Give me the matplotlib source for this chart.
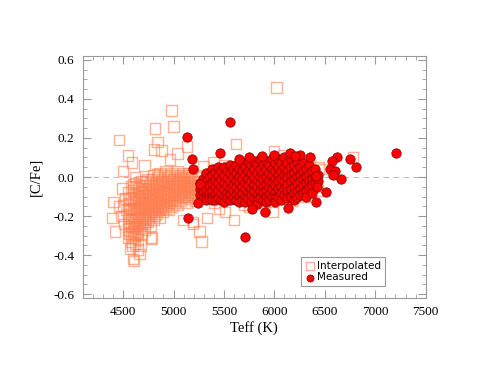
# scatter of [C/Fe] against Teff, interpolated vs measured values
import matplotlib
matplotlib.use('Agg')
import matplotlib.pyplot as plt
from matplotlib.ticker import MultipleLocator

# interpolated values (open squares)
interp_teff = [
    6020, 4980, 5000, 4815, 4460, 5620, 4840, 4550, 4805, 4880, 5040, 5135,
    4965, 5995, 4590, 4715, 4500, 5395, 5295, 4835, 4620, 4405, 4395, 4420,
    4570, 4610, 4660, 4775, 4675, 5280, 5260, 5330, 5600, 5195, 4495, 5980,
    6085, 6210, 6435, 6780, 6470, 6430, 5510, 5905, 6180, 6415, 4600, 4500,
    4595, 4650, 4600, 4785, 5195, 5095,
    4460, 4480, 4510, 4520, 4530,
    4550, 4550, 4550, 4550, 4550, 4550,
    4580, 4580, 4580, 4580, 4580, 4580, 4580,
    4620, 4620, 4620, 4620, 4620, 4620, 4620, 4620,
    4650, 4650, 4650, 4650, 4650, 4650, 4650,
    4680, 4680, 4680, 4680, 4680, 4680, 4680,
    4710, 4710, 4710, 4710, 4710, 4710, 4710,
    4740, 4740, 4740, 4740, 4740, 4740,
    4770, 4770, 4770, 4770, 4770, 4770,
    4800, 4800, 4800, 4800, 4800, 4800,
    4830, 4830, 4830, 4830, 4830,
    4860, 4860, 4860, 4860, 4860, 4860,
    4890, 4890, 4890, 4890, 4890,
    4920, 4920, 4920, 4920, 4920,
    4950, 4950, 4950, 4950, 4950,
    4980, 4980, 4980, 4980, 4980,
    5010, 5010, 5010, 5010,
    5040, 5040, 5040, 5040, 5040,
    5070, 5070, 5070, 5070,
    5100, 5100, 5100, 5100,
    5130, 5130, 5130, 5130,
    5160, 5160, 5160, 5160,
    5190, 5190, 5190,
    5220, 5220, 5220, 5220,
    5250, 5250, 5250,
    4565, 4565, 4565, 4565, 4565,
    4600, 4600, 4600, 4600, 4600, 4600, 4600,
    4635, 4635, 4635, 4635, 4635, 4635,
    4665, 4665, 4665, 4665, 4665, 4665,
    4695, 4695, 4695, 4695, 4695,
    4725, 4725, 4725, 4725, 4725, 4725,
    4755, 4755, 4755, 4755, 4755,
    4785, 4785, 4785, 4785, 4785,
    4815, 4815, 4815, 4815, 4815,
    4845, 4845, 4845, 4845, 4845,
    4875, 4875, 4875, 4875,
    4905, 4905, 4905, 4905, 4905,
    4935, 4935, 4935, 4935,
    4965, 4965, 4965, 4965,
    4995, 4995, 4995, 4995,
    5025, 5025, 5025, 5025,
    5055, 5055, 5055,
    5085, 5085, 5085, 5085,
    5115, 5115, 5115,
    5145, 5145, 5145, 5145,
    5175, 5175, 5175,
    5205, 5205, 5205,
    5400, 5500, 5700, 5800, 5900, 6000, 6100, 6200, 6300, 5350, 5600, 5850,
    6050, 6250, 5450, 5750, 6350,
]
interp_cfe = [
    0.46, 0.34, 0.26, 0.25, 0.19, 0.17, 0.18, 0.11, 0.14, 0.135, 0.12, 0.155,
    0.09, 0.13, 0.075, 0.06, 0.03, 0.075, 0.055, 0.015, 0.0, -0.127, -0.21, -0.28,
    -0.366, -0.43, -0.395, -0.315, -0.35, -0.33, -0.28, -0.21, -0.22, -0.24, -0.06, -0.18,
    0.11, 0.1, 0.05, 0.1, 0.04, -0.07, -0.18, -0.155, -0.12, -0.05, -0.036, -0.147,
    -0.35, -0.37, -0.42, -0.31, -0.23, -0.22,
    -0.15, -0.2, -0.24, -0.11, -0.17,
    -0.08, -0.14, -0.19, -0.23, -0.27, -0.31,
    -0.05, -0.11, -0.17, -0.21, -0.25, -0.29, -0.33,
    -0.03, -0.09, -0.13, -0.18, -0.22, -0.26, -0.30, -0.34,
    -0.06, -0.10, -0.15, -0.19, -0.24, -0.28, -0.32,
    -0.02, -0.08, -0.12, -0.16, -0.21, -0.25, -0.29,
    -0.04, -0.09, -0.13, -0.17, -0.20, -0.24, -0.27,
    -0.01, -0.06, -0.11, -0.15, -0.19, -0.23,
    -0.03, -0.08, -0.12, -0.16, -0.20, -0.25,
    0.01, -0.05, -0.10, -0.14, -0.18, -0.22,
    -0.02, -0.07, -0.11, -0.15, -0.19,
    0.02, -0.04, -0.09, -0.13, -0.17, -0.21,
    -0.01, -0.06, -0.10, -0.14, -0.18,
    0.03, -0.03, -0.08, -0.12, -0.16,
    0.00, -0.05, -0.09, -0.13, -0.17,
    0.02, -0.03, -0.07, -0.11, -0.15,
    -0.01, -0.05, -0.09, -0.13,
    0.03, -0.02, -0.06, -0.10, -0.14,
    0.00, -0.04, -0.08, -0.12,
    0.02, -0.02, -0.06, -0.10,
    -0.01, -0.05, -0.09, -0.13,
    0.01, -0.03, -0.07, -0.11,
    -0.01, -0.05, -0.09,
    0.01, -0.04, -0.08, -0.12,
    -0.02, -0.06, -0.10,
    -0.11, -0.16, -0.21, -0.25, -0.29,
    -0.07, -0.12, -0.16, -0.20, -0.24, -0.28, -0.31,
    -0.05, -0.11, -0.16, -0.21, -0.25, -0.29,
    -0.04, -0.08, -0.13, -0.17, -0.22, -0.26,
    -0.06, -0.10, -0.14, -0.19, -0.23,
    -0.02, -0.07, -0.11, -0.15, -0.18, -0.22,
    -0.04, -0.09, -0.13, -0.17, -0.21,
    -0.01, -0.06, -0.10, -0.14, -0.18,
    -0.03, -0.08, -0.12, -0.16, -0.20,
    0.00, -0.05, -0.09, -0.13, -0.17,
    -0.02, -0.07, -0.11, -0.15,
    0.01, -0.04, -0.08, -0.12, -0.15,
    -0.02, -0.06, -0.10, -0.14,
    0.01, -0.04, -0.08, -0.12,
    -0.01, -0.05, -0.09, -0.12,
    0.01, -0.03, -0.07, -0.11,
    -0.01, -0.05, -0.09,
    0.01, -0.03, -0.07, -0.10,
    0.00, -0.04, -0.08,
    0.02, -0.02, -0.06, -0.10,
    0.00, -0.04, -0.08,
    -0.02, -0.06, -0.10,
    -0.13, 0.06, -0.14, 0.07, -0.12, 0.08, -0.11, 0.05, -0.10, -0.05, 0.0, -0.03,
    0.0, -0.02, -0.16, -0.15, 0.07,
]

# measured values (filled circles)
meas_teff = [
    5260, 5260, 5260,
    5290, 5290, 5290, 5290,
    5320, 5320, 5320, 5320, 5320,
    5350, 5350, 5350, 5350,
    5380, 5380, 5380, 5380, 5380, 5380,
    5410, 5410, 5410, 5410, 5410,
    5440, 5440, 5440, 5440, 5440,
    5470, 5470, 5470, 5470, 5470,
    5500, 5500, 5500, 5500, 5500, 5500,
    5530, 5530, 5530, 5530, 5530,
    5560, 5560, 5560, 5560, 5560, 5560,
    5590, 5590, 5590, 5590, 5590,
    5620, 5620, 5620, 5620, 5620, 5620,
    5650, 5650, 5650, 5650, 5650, 5650,
    5680, 5680, 5680, 5680, 5680, 5680,
    5710, 5710, 5710, 5710, 5710, 5710,
    5740, 5740, 5740, 5740, 5740, 5740,
    5770, 5770, 5770, 5770, 5770, 5770,
    5800, 5800, 5800, 5800, 5800, 5800,
    5830, 5830, 5830, 5830, 5830, 5830, 5830,
    5860, 5860, 5860, 5860, 5860, 5860,
    5890, 5890, 5890, 5890, 5890, 5890,
    5920, 5920, 5920, 5920, 5920, 5920, 5920,
    5950, 5950, 5950, 5950, 5950, 5950,
    5980, 5980, 5980, 5980, 5980, 5980,
    6010, 6010, 6010, 6010, 6010, 6010, 6010,
    6040, 6040, 6040, 6040, 6040, 6040,
    6070, 6070, 6070, 6070, 6070, 6070,
    6100, 6100, 6100, 6100, 6100, 6100,
    6130, 6130, 6130, 6130, 6130, 6130,
    6160, 6160, 6160, 6160, 6160, 6160,
    6190, 6190, 6190, 6190, 6190, 6190,
    6220, 6220, 6220, 6220, 6220, 6220,
    6250, 6250, 6250, 6250, 6250,
    6280, 6280, 6280, 6280, 6280,
    6310, 6310, 6310, 6310, 6310,
    6340, 6340, 6340, 6340,
    6370, 6370, 6370, 6370,
    6400, 6400, 6400,
    6430, 6430,
    5558, 5136, 5179, 5462, 5195, 5749, 5145, 5707, 5905, 5781, 5261, 6159,
    6136, 5245, 7208, 6625, 6568, 6753, 6806, 6657, 6548, 6600, 6578, 6509,
    6410, 6423, 6350, 6416, 5995, 6250, 6200, 5650, 5880,
]
meas_cfe = [
    -0.03, -0.06, -0.09,
    -0.01, -0.05, -0.08, -0.11,
    0.02, -0.02, -0.06, -0.10, -0.12,
    0.00, -0.04, -0.08, -0.11,
    0.04, 0.01, -0.03, -0.07, -0.10, -0.12,
    0.02, -0.02, -0.05, -0.09, -0.12,
    0.05, 0.01, -0.03, -0.07, -0.11,
    0.03, -0.01, -0.05, -0.08, -0.12,
    0.05, 0.01, -0.03, -0.06, -0.10, -0.13,
    0.03, -0.01, -0.04, -0.08, -0.11,
    0.06, 0.02, -0.02, -0.06, -0.09, -0.12,
    0.04, 0.00, -0.04, -0.07, -0.11,
    0.06, 0.02, -0.02, -0.05, -0.09, -0.12,
    0.04, 0.00, -0.03, -0.07, -0.10, -0.13,
    0.07, 0.03, -0.01, -0.05, -0.08, -0.12,
    0.05, 0.01, -0.03, -0.06, -0.10, -0.13,
    0.08, 0.03, -0.01, -0.04, -0.08, -0.11,
    0.06, 0.02, -0.02, -0.06, -0.09, -0.13,
    0.08, 0.04, 0.00, -0.04, -0.07, -0.11,
    0.06, 0.02, -0.02, -0.05, -0.09, -0.12, -0.14,
    0.09, 0.04, 0.00, -0.03, -0.07, -0.11,
    0.06, 0.02, -0.01, -0.05, -0.08, -0.12,
    0.08, 0.04, 0.00, -0.04, -0.07, -0.10, -0.13,
    0.06, 0.02, -0.02, -0.05, -0.09, -0.12,
    0.09, 0.04, 0.01, -0.03, -0.06, -0.10,
    0.07, 0.03, -0.01, -0.04, -0.08, -0.11, -0.13,
    0.09, 0.05, 0.01, -0.02, -0.06, -0.10,
    0.07, 0.03, -0.01, -0.05, -0.08, -0.12,
    0.10, 0.05, 0.01, -0.02, -0.06, -0.09,
    0.07, 0.03, 0.00, -0.04, -0.07, -0.11,
    0.09, 0.05, 0.01, -0.02, -0.06, -0.10,
    0.06, 0.02, -0.01, -0.05, -0.08, -0.12,
    0.08, 0.04, 0.00, -0.03, -0.07, -0.10,
    0.05, 0.01, -0.02, -0.06, -0.09,
    0.07, 0.03, -0.01, -0.04, -0.08,
    0.04, 0.00, -0.03, -0.07, -0.10,
    0.06, 0.02, -0.02, -0.05,
    0.03, -0.01, -0.04, -0.08,
    0.04, 0.00, -0.03,
    0.01, -0.02,
    0.28, 0.207, 0.092, 0.123, 0.04, 0.10, -0.21, -0.305, -0.178, -0.162, -0.036, 0.123,
    -0.16, -0.133, 0.123, 0.10, 0.08, 0.09, 0.05, -0.012, 0.04, 0.03, 0.012, -0.075,
    -0.127, -0.053, 0.105, 0.007, 0.115, 0.115, 0.11, 0.09, 0.11,
]

# colors
interp_color = '#ff7f50'
meas_face = '#ff0000'
meas_edge = '#7a0000'
axis_color = '#999999'

plt.rcParams['font.family'] = 'Liberation Serif'

fig = plt.figure(figsize=(4.79, 3.70), dpi=100)
ax = fig.add_axes([0.1727, 0.1946, 0.716, 0.654])

# zero line
ax.axhline(0, color='#bbbbbb', linestyle=(0, (5, 4)), linewidth=0.8, zorder=0)

ax.scatter(interp_teff, interp_cfe, marker='s', s=58, facecolors='none',
           edgecolors=interp_color, linewidths=1.0, alpha=0.6,
           label='Interpolated', zorder=2)
ax.scatter(meas_teff, meas_cfe, marker='o', s=46, facecolors=meas_face,
           edgecolors=meas_edge, linewidths=0.5, label='Measured', zorder=3)

ax.set_xlim(4100, 7500)
ax.set_ylim(-0.62, 0.62)
ax.xaxis.set_major_locator(MultipleLocator(500))
ax.xaxis.set_minor_locator(MultipleLocator(100))
ax.yaxis.set_major_locator(MultipleLocator(0.2))
ax.yaxis.set_minor_locator(MultipleLocator(0.05))
ax.set_yticks([-0.6, -0.4, -0.2, 0.0, 0.2, 0.4, 0.6])
ax.set_yticklabels(['-0.6', '-0.4', '-0.2', '0.0', '0.2', '0.4', '0.6'])
ax.set_xticks([4500, 5000, 5500, 6000, 6500, 7000, 7500])

# IDL-like box with inward ticks on all sides
for side in ax.spines:
    ax.spines[side].set_color(axis_color)
    ax.spines[side].set_linewidth(0.8)
ax.tick_params(which='both', direction='in', top=True, right=True,
               color=axis_color, labelsize=9.5, pad=6)
ax.tick_params(which='major', length=6)
ax.tick_params(which='minor', length=3)

ax.set_xlabel('Teff (K)', fontsize=10.5, labelpad=2)
ax.set_ylabel('[C/Fe]', fontsize=10.5, labelpad=8)

leg = ax.legend(loc='lower left', bbox_to_anchor=(0.636, 0.05),
                prop={'family': 'DejaVu Sans', 'size': 7.5},
                fancybox=False, edgecolor=axis_color, framealpha=1,
                handletextpad=0.2, borderpad=0.35, labelspacing=0.15,
                handlelength=1.0, markerscale=0.75, borderaxespad=0)
leg.get_frame().set_linewidth(0.8)

fig.savefig('out.png', dpi=100)
